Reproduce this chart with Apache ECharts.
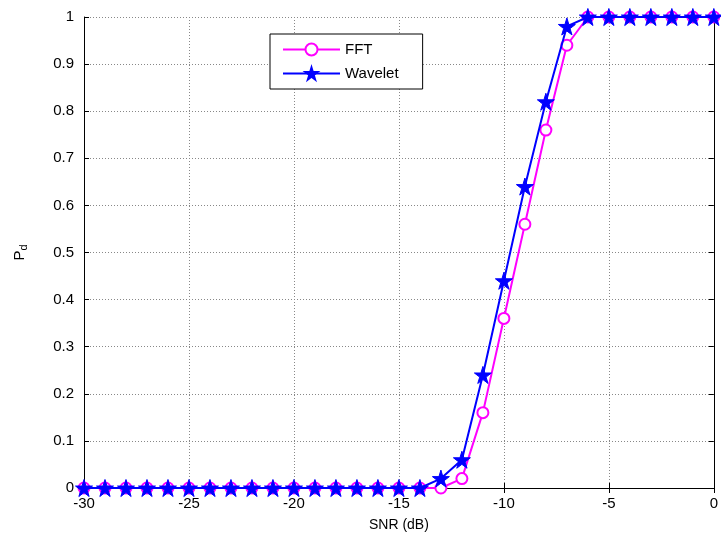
<!DOCTYPE html>
<html>
<head>
<meta charset="utf-8">
<script src="https://cdn.jsdelivr.net/npm/echarts@6/dist/echarts.min.js"></script>
<style>
  html, body { margin: 0; padding: 0; background: #fff; }
  #main { width: 721px; height: 538px; }
</style>
</head>
<body>
<div id="main"></div>
<script>
// SNR values in dB
var snr = [];
for (var s = -30; s <= 0; s++) snr.push(s);

var fftPd = [0, 0, 0, 0, 0, 0, 0, 0, 0, 0,
             0, 0, 0, 0, 0, 0, 0, 0, 0.02, 0.16,
             0.36, 0.56, 0.76, 0.94, 1, 1, 1, 1, 1, 1, 1];
var waveletPd = [0, 0, 0, 0, 0, 0, 0, 0, 0, 0,
                 0, 0, 0, 0, 0, 0, 0, 0.02, 0.06, 0.24,
                 0.44, 0.64, 0.82, 0.98, 1, 1, 1, 1, 1, 1, 1];

var starPath = 'path://M50,0 L61,35 L98,35 L68,57 L79,91 L50,70 L21,91 L32,57 L2,35 L39,35 Z';
var font = 'Liberation Sans, Arial, sans-serif';

function pairs(ys) {
    return snr.map(function (x, i) { return [x, ys[i]]; });
}

var chart = echarts.init(document.getElementById('main'));
chart.setOption({
    animation: false,
    backgroundColor: '#fff',
    textStyle: { fontFamily: font },
    grid: { left: 84, right: 5, top: 17, bottom: 50 },
    legend: {
        left: 270, top: 34,
        orient: 'vertical',
        backgroundColor: '#fff',
        borderColor: '#000',
        borderWidth: 1,
        borderRadius: 0,
        padding: [8, 24, 8, 12],
        itemGap: 9,
        itemWidth: 57,
        itemHeight: 15,
        textStyle: { fontSize: 15, color: '#000', fontFamily: font },
        data: ['FFT', 'Wavelet']
    },
    xAxis: [{
        type: 'value', min: -30, max: 0, interval: 5,
        name: 'SNR (dB)', nameLocation: 'middle', nameGap: 30,
        nameTextStyle: { fontSize: 14, color: '#000' },
        axisLine: { show: true, onZero: false, lineStyle: { color: '#000', width: 1 } },
        axisTick: { inside: true, length: 5, lineStyle: { color: '#000' } },
        axisLabel: { fontSize: 15, color: '#000', margin: 8 },
        splitLine: { show: true, lineStyle: { color: '#888', type: [1, 2], width: 1 } }
    }, {
        type: 'value', min: -30, max: 0, interval: 5, position: 'top',
        axisLine: { show: true, lineStyle: { color: '#000' } },
        axisTick: { inside: true, length: 5, lineStyle: { color: '#000' } },
        axisLabel: { show: false },
        splitLine: { show: false }
    }],
    yAxis: [{
        type: 'value', min: 0, max: 1, interval: 0.1,
        name: '{p|P}{d|d}', nameLocation: 'middle', nameGap: 55, nameRotate: 90,
        nameTextStyle: {
            color: '#000',
            rich: {
                p: { fontSize: 15, color: '#000', fontFamily: font },
                d: { fontSize: 11, color: '#000', fontFamily: font, verticalAlign: 'bottom', padding: [8, 0, 0, 0] }
            }
        },
        axisLine: { show: true, onZero: false, lineStyle: { color: '#000', width: 1 } },
        axisTick: { inside: true, length: 5, lineStyle: { color: '#000' } },
        axisLabel: {
            fontSize: 15, color: '#000', margin: 10,
            formatter: function (v) { return String(Math.round(v * 10) / 10); }
        },
        splitLine: { show: true, lineStyle: { color: '#888', type: [1, 2], width: 1 } }
    }, {
        type: 'value', min: 0, max: 1, interval: 0.1, position: 'right',
        axisLine: { show: true, lineStyle: { color: '#000' } },
        axisTick: { inside: true, length: 5, lineStyle: { color: '#000' } },
        axisLabel: { show: false },
        splitLine: { show: false }
    }],
    series: [{
        name: 'FFT', type: 'line', data: pairs(fftPd),
        symbol: 'emptyCircle', symbolSize: 11, showAllSymbol: true,
        lineStyle: { color: '#ff00ff', width: 2 },
        itemStyle: { color: '#ff00ff', borderColor: '#ff00ff', borderWidth: 2 },
        z: 2
    }, {
        name: 'Wavelet', type: 'line', data: pairs(waveletPd),
        symbol: starPath, symbolSize: 17, showAllSymbol: true,
        lineStyle: { color: '#0000ff', width: 2 },
        itemStyle: { color: '#0000ff', borderColor: '#0000ff', borderWidth: 1 },
        z: 3
    }]
});
</script>
</body>
</html>
